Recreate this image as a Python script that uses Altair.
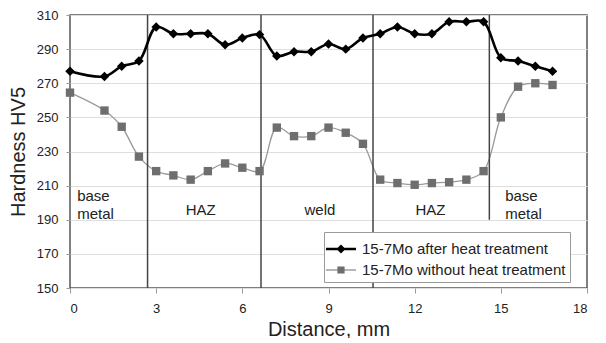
import altair as alt
import pandas as pd

# ---- data ----
distance = [0, 1.2, 1.8, 2.4, 3.0, 3.6, 4.2, 4.8, 5.4, 6.0, 6.6, 7.2, 7.8, 8.4,
            9.0, 9.6, 10.2, 10.8, 11.4, 12.0, 12.6, 13.2, 13.8, 14.4, 15.0,
            15.6, 16.2, 16.8]
after_ht = [277, 274, 280, 283, 303, 299, 299, 299, 292.5, 296.5, 298.5, 286,
            288.5, 288.5, 293, 290, 296.5, 299, 303, 299, 299, 306, 306, 306,
            285, 283, 280, 277]
without_ht = [264.5, 254, 244.5, 227, 218.5, 216, 213.5, 218.5, 223, 220.5,
              218.5, 244, 239, 239, 244, 241, 234.5, 213.5, 211.5, 210.5,
              211.5, 212, 213.5, 218.5, 250, 268, 270, 269]
series_names = ["15-7Mo after heat treatment", "15-7Mo without heat treatment"]

boundary_x = [2.7, 6.65, 10.55, 14.6]
boundary_bottom = [150, 150, 150, 190]

zone_labels = ["base\nmetal", "HAZ", "weld", "HAZ", "base\nmetal"]
zone_x = [0.25, 4.55, 8.7, 12.55, 15.15]
zone_y = [204, 195.5, 195.5, 195.5, 204]
zone_anchor = ["left", "center", "center", "center", "left"]

x_ticks = [0, 3, 6, 9, 12, 15, 18]
y_ticks = [150, 170, 190, 210, 230, 250, 270, 290, 310]

FONT = "Liberation Sans"

df = pd.DataFrame({
    "Distance": distance * 2,
    "Hardness": after_ht + without_ht,
    "Series": [series_names[0]] * len(distance) + [series_names[1]] * len(distance),
})
df_after = df[df["Series"] == series_names[0]]
df_without = df[df["Series"] == series_names[1]]
bounds = pd.DataFrame({"Distance": boundary_x, "Hardness": [310] * 4, "bottom": boundary_bottom})
zones = pd.DataFrame({"label": zone_labels, "Distance": zone_x, "Hardness": zone_y,
                      "anchor": zone_anchor})

xscale = alt.Scale(domain=[0, 18], nice=False, zero=False)
yscale = alt.Scale(domain=[150, 310], nice=False, zero=False)

X_axis = alt.Axis(values=x_ticks, title="Distance, mm", grid=False,
                  domain=False, tickSize=5, tickColor="#999",
                  labelFontSize=13, labelFont=FONT, labelColor="#222",
                  labelPadding=9, labelOverlap=False, titleFont=FONT,
                  titleFontSize=20, titleFontWeight="normal",
                  titleColor="#222", titlePadding=4)
Y_axis = alt.Axis(values=y_ticks, title="Hardness HV5", grid=True,
                  gridColor="#dedede", domain=False, tickSize=4,
                  tickColor="#999", labelFontSize=13, labelFont=FONT,
                  labelColor="#222", labelPadding=8, labelOverlap=False,
                  labelBound=False, titleFont=FONT,
                  titleFontSize=20, titleFontWeight="normal",
                  titleColor="#222", titlePadding=8)

X = alt.X("Distance:Q", scale=xscale, axis=X_axis)
Y = alt.Y("Hardness:Q", scale=yscale, axis=Y_axis)

rules = alt.Chart(bounds).mark_rule(color="#444", strokeWidth=1.5).encode(
    x=X, y=Y, y2="bottom:Q",
)

texts_left = alt.Chart(zones[zones["anchor"] == "left"]).mark_text(
    font=FONT, fontSize=15, color="#222", lineBreak="\n", lineHeight=18,
    baseline="middle", align="left").encode(x=X, y=Y, text="label:N")
texts_center = alt.Chart(zones[zones["anchor"] == "center"]).mark_text(
    font=FONT, fontSize=15, color="#222", baseline="middle", align="center").encode(
    x=X, y=Y, text="label:N")

line_without = alt.Chart(df_without).mark_line(
    color="#9a9a9a", strokeWidth=1.3, interpolate="catmull-rom").encode(x=X, y=Y)
pts_without = alt.Chart(df_without).mark_point(
    shape="square", filled=True, color="#6e6e6e", size=70, opacity=1).encode(x=X, y=Y)
line_after = alt.Chart(df_after).mark_line(
    color="#000000", strokeWidth=2.6, interpolate="catmull-rom").encode(x=X, y=Y)
pts_after = alt.Chart(df_after).mark_point(
    shape="diamond", filled=True, color="#000000", size=90, opacity=1).encode(x=X, y=Y)

sym_after = "M-1.25,-0.1L1.25,-0.1L1.25,0.1L-1.25,0.1Z M0,-0.38L0.38,0L0,0.38L-0.38,0Z"
sym_without = "M-1.25,-0.05L1.25,-0.05L1.25,0.05L-1.25,0.05Z M-0.3,-0.3L0.3,-0.3L0.3,0.3L-0.3,0.3Z"

leg = dict(title=None, orient="none", legendX=254, legendY=217,
           fillColor="white", strokeColor="#9a9a9a", padding=4,
           labelFont=FONT, labelFontSize=15, labelColor="#222",
           labelLimit=400, symbolSize=576, labelOffset=8, rowPadding=0,
           symbolOpacity=1)

legend_layer = alt.Chart(df).mark_point(filled=True, opacity=0).encode(
    x=X, y=Y,
    color=alt.Color("Series:N",
                    scale=alt.Scale(domain=series_names, range=["#000000", "#6e6e6e"]),
                    legend=alt.Legend(**leg)),
    shape=alt.Shape("Series:N",
                    scale=alt.Scale(domain=series_names, range=[sym_after, sym_without]),
                    legend=alt.Legend(**leg)),
)

chart = alt.layer(
    line_without, rules, texts_left, texts_center, pts_without,
    line_after, pts_after, legend_layer,
).properties(
    width=517, height=273,
    background="white",
    autosize=alt.AutoSizeParams(type="none"),
    padding={"left": 62, "top": 7, "right": 10, "bottom": 50},
).configure_view(
    stroke="#555", strokeWidth=1.5
)

chart.save("out.html", embed_options={"renderer": "svg", "actions": False})
